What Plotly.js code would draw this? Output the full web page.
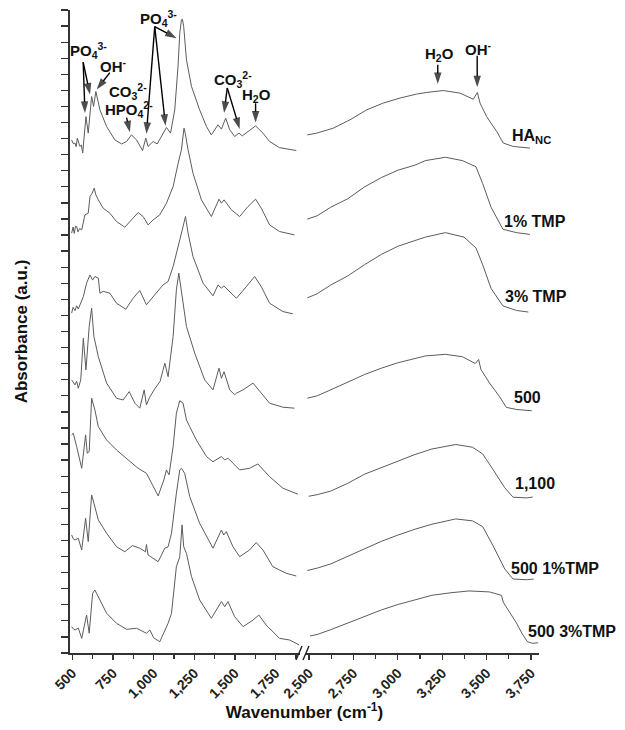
<!DOCTYPE html>
<html>
<head>
<meta charset="utf-8">
<script src="https://cdn.plot.ly/plotly-3.0.1.min.js"></script>
<style>html,body{margin:0;padding:0;background:#fff;}#chart{width:625px;height:730px;}</style>
</head>
<body>
<div id="chart"></div>
<script>
// ---------- DATA ----------
const seriesNames = ['HA<sub>NC</sub>', '1% TMP', '3% TMP', '500', '1,100', '500 1%TMP', '500 3%TMP'];

// HA_NC
const haWnLow = [496,505,517,524,531,540,547,556,564,584,598,619,631,645,670,711,762,803,834,864,895,932,952,966,997,1022,1058,1079,1104,1130,1150,1161,1171,1177,1185,1202,1233,1259,1283,1325,1355,1396,1417,1443,1468,1498,1525,1545,1580,1627,1672,1713,1774,1877];
const haAbsLow = [31.92,31.7,31.72,31.5,32.03,31.8,31.51,31.6,31.10,33.37,32.34,34.62,34.00,34.93,33.79,32.75,31.92,31.67,31.82,32.23,31.92,31.26,32.03,31.51,31.82,31.67,32.34,32.69,32.34,33.79,36.48,38.56,39.39,39.43,38.97,36.90,35.24,34.41,33.79,32.75,32.23,32.86,32.59,33.27,32.55,32.13,32.34,32.17,32.44,32.79,32.34,31.82,31.44,31.26];
const haWnHigh = [2490,2543,2637,2731,2825,2918,3012,3106,3163,3256,3350,3425,3448,3463,3500,3557,3594,3650,3744];
const haAbsHigh = [32.23,32.34,32.65,33.17,33.79,34.21,34.52,34.77,34.87,34.99,34.83,34.45,34.87,34.21,33.37,32.44,31.72,31.51,31.41];

// 1% TMP
const tmp1WnLow = [496,505,512,520,527,535,545,558,578,598,609,622,635,645,660,690,731,772,823,864,905,936,966,997,1038,1079,1120,1151,1171,1187,1195,1212,1242,1294,1355,1402,1417,1433,1478,1529,1580,1627,1662,1713,1774,1866];
const tmp1AbsLow = [26.12,26.5,26.1,26.55,26.53,26.2,26.4,26.32,27.26,27.36,28.39,28.6,28.92,28.5,28.19,27.67,27.36,26.84,26.49,26.94,27.40,27.15,26.63,26.94,27.26,27.98,29.02,30.47,31.30,32.65,32.3,31.30,29.85,28.19,27.15,28.23,27.98,28.19,27.57,27.15,27.77,28.23,27.67,26.63,26.22,26.01];
const tmp1WnHigh = [2490,2546,2622,2717,2812,2908,3002,3097,3155,3268,3364,3440,3478,3525,3592,3668,3744];
const tmp1AbsHigh = [26.99,27.20,27.73,28.25,28.99,29.58,30.04,30.35,30.63,30.84,30.63,30.25,29.20,27.73,26.36,26.15,26.04];

// 3% TMP
const tmp3WnLow = [496,505,517,527,537,550,568,588,609,625,639,660,670,690,731,772,829,874,915,956,997,1058,1089,1120,1161,1181,1196,1212,1242,1304,1365,1396,1417,1431,1509,1570,1621,1662,1713,1795,1856];
const tmp3AbsLow = [21.14,21.5,21.3,21.6,21.4,21.7,22.17,23.01,23.52,23.2,23.42,23.32,22.38,22.5,22.38,21.76,21.39,22.07,22.55,21.66,22.17,22.90,23.11,24.04,25.70,26.53,27.15,26.12,24.66,23.01,22.22,22.90,22.69,22.84,22.07,22.79,23.42,22.79,21.76,21.24,21.10];
const tmp3WnHigh = [2490,2546,2622,2717,2812,2908,3002,3097,3155,3268,3373,3440,3478,3525,3592,3668,3735];
const tmp3AbsHigh = [22.09,22.35,22.89,23.45,24.15,24.80,25.31,25.65,25.87,26.15,25.87,25.20,24.15,22.68,21.59,21.31,21.21];

// 500
const c500WnLow = [496,506,517,527,537,552,568,584,604,619,633,660,711,772,813,850,885,915,942,956,975,1005,1040,1069,1089,1120,1140,1155,1171,1202,1253,1314,1365,1402,1417,1433,1468,1498,1509,1550,1611,1662,1713,1795,1866];
const c500AbsLow = [16.99,16.8,16.68,16.9,16.47,16.99,19.58,17.61,20.31,21.45,19.69,18.44,16.79,15.85,15.74,16.26,15.54,15.23,16.37,15.43,15.9,16.4,16.9,18.03,17.19,19.69,22.59,23.63,22.38,20.31,18.65,16.99,16.37,17.72,17.09,17.50,16.37,16.06,16.16,16.37,16.79,16.16,15.54,15.29,15.23];
const c500WnHigh = [2490,2546,2622,2717,2812,2908,3002,3097,3155,3268,3364,3436,3455,3468,3516,3573,3611,3668,3754];
const c500AbsHigh = [15.85,16.0,16.37,16.85,17.32,17.72,18.06,18.32,18.48,18.58,18.43,18.01,18.26,17.64,16.80,15.95,15.28,15.15,15.07];

// 1,100
const c1100WnLow = [496,506,527,558,582,592,604,619,639,660,711,772,844,905,956,987,1028,1063,1079,1095,1120,1140,1161,1181,1202,1222,1263,1325,1365,1417,1437,1457,1529,1590,1641,1713,1795,1887];
const c1100AbsLow = [13.57,13.67,12.84,11.49,13.57,12.43,12.53,15.85,15.12,14.08,13.25,12.63,12.01,11.49,11.18,10.56,9.77,10.77,11.39,11.08,12.84,14.92,15.70,15.54,14.50,14.08,13.25,12.22,11.90,12.22,12.01,12.12,11.39,11.49,11.76,10.97,10.25,9.88];
const c1100WnHigh = [2498,2546,2622,2717,2812,2908,3002,3097,3192,3326,3421,3478,3535,3602,3649,3725,3760];
const c1100AbsHigh = [9.75,9.85,10.07,10.55,11.12,11.55,11.96,12.35,12.69,12.97,12.80,12.38,11.43,10.28,9.69,9.65,9.70];

// 500 1%TMP
const c500t1WnLow = [496,506,517,537,558,582,598,619,633,660,711,772,823,870,915,950,956,966,1028,1069,1089,1110,1140,1161,1171,1191,1222,1283,1365,1417,1431,1447,1488,1529,1590,1631,1672,1733,1815,1877];
const c500t1AbsLow = [7.34,7.1,7.03,7.14,6.41,8.38,6.93,9.83,9.32,8.28,7.45,6.61,6.30,6.68,6.52,6.3,6.75,6.10,5.68,6.52,6.61,7.45,9.94,11.39,11.49,11.18,9.73,8.07,6.52,7.65,7.34,7.55,6.61,5.99,6.41,6.87,6.41,5.37,4.96,4.79];
const c500t1WnHigh = [2490,2546,2622,2717,2812,2908,3002,3097,3192,3326,3421,3478,3535,3602,3649,3725,3765];
const c500t1AbsHigh = [5.13,5.28,5.54,6.0,6.50,6.95,7.34,7.70,8.01,8.34,8.22,7.86,6.70,5.23,4.60,4.56,4.60];

// 500 3%TMP
const c500t3WnLow = [496,506,517,537,558,588,604,625,639,660,711,772,834,895,956,977,1000,1038,1089,1110,1140,1161,1175,1185,1202,1233,1283,1355,1417,1437,1457,1498,1550,1611,1647,1692,1774,1836,1895];
const c500t3AbsLow = [1.64,1.5,1.43,1.55,0.91,2.36,1.23,3.71,3.92,3.50,2.47,1.85,1.47,1.54,1.23,1.43,0.95,0.70,1.85,2.47,5.37,5.99,7.97,6.61,6.20,4.75,3.30,2.16,3.20,2.88,3.20,2.26,1.64,2.05,2.36,1.74,0.91,0.81,0.50];
const c500t3WnHigh = [2506,2546,2622,2717,2812,2908,3002,3097,3192,3300,3401,3516,3583,3595,3630,3668,3700,3730,3760,3790];
const c500t3AbsHigh = [1.06,1.15,1.45,1.85,2.29,2.68,3.02,3.32,3.59,3.75,3.86,3.80,3.59,3.13,2.5,1.87,1.2,0.7,0.6,0.64];

// band assignment labels
const bandLabels = ['PO<sub>4</sub><sup>3-</sup>', 'OH<sup>-</sup>', 'CO<sub>3</sub><sup>2-</sup>', 'HPO<sub>4</sub><sup>2-</sup>', 'PO<sub>4</sub><sup>3-</sup>', 'CO<sub>3</sub><sup>2-</sup>', 'H<sub>2</sub>O', 'H<sub>2</sub>O', 'OH<sup>-</sup>'];

// ---------- CHART ----------
const lowSets = [[haWnLow,haAbsLow],[tmp1WnLow,tmp1AbsLow],[tmp3WnLow,tmp3AbsLow],[c500WnLow,c500AbsLow],[c1100WnLow,c1100AbsLow],[c500t1WnLow,c500t1AbsLow],[c500t3WnLow,c500t3AbsLow]];
const highSets = [[haWnHigh,haAbsHigh],[tmp1WnHigh,tmp1AbsHigh],[tmp3WnHigh,tmp3AbsHigh],[c500WnHigh,c500AbsHigh],[c1100WnHigh,c1100AbsHigh],[c500t1WnHigh,c500t1AbsHigh],[c500t3WnHigh,c500t3AbsHigh]];

const lineStyle = {color: '#5c5c5c', width: 1};
const traces = [];
seriesNames.forEach((name, i) => {
  traces.push({x: lowSets[i][0], y: lowSets[i][1], xaxis: 'x', yaxis: 'y', mode: 'lines', line: lineStyle, name: name, hoverinfo: 'skip'});
  traces.push({x: highSets[i][0], y: highSets[i][1], xaxis: 'x2', yaxis: 'y', mode: 'lines', line: lineStyle, name: name, hoverinfo: 'skip'});
});
// empty trace so that the full-width title axis is drawn
traces.push({x: [], y: [], xaxis: 'x3', yaxis: 'y', mode: 'lines', hoverinfo: 'skip'});

// band arrows: [axis, tailX, tailY, headX, headY]
const arrows = [
  ['x', 567, 36.75, 578, 33.6], ['x', 567, 36.75, 609, 34.75],
  ['x', 731, 36.1, 650, 35.05],
  ['x', 834, 33.3, 854, 32.4],
  ['x', 1007, 38.97, 956, 32.3], ['x', 1007, 38.97, 1073, 32.8], ['x', 1007, 38.97, 1141, 38.25],
  ['x', 1453, 35.15, 1433, 33.6], ['x', 1453, 35.15, 1529, 32.6],
  ['x', 1627, 34.2, 1627, 33.0],
  ['x2', 3225, 36.6, 3225, 35.4],
  ['x2', 3447, 37.15, 3447, 35.2]
];
arrows.forEach(a => {
  traces.push({x: [a[1], a[3]], y: [a[2], a[4]], xaxis: a[0], yaxis: 'y', mode: 'lines+markers', hoverinfo: 'skip',
    line: {color: '#000', width: 1.4},
    marker: {symbol: 'arrow', angleref: 'previous', size: [0, 12], color: '#000', line: {width: 0}}});
});

const FONT = 'Liberation Sans, Arial, Helvetica, sans-serif';
const tickFont = {family: FONT, size: 14, color: '#222', weight: 'bold'};

const xCommon = {
  dtick: 250, tickformat: ',d', tickangle: -45, ticks: 'outside', ticklen: 5, tickwidth: 1.3, tickcolor: '#333',
  showline: true, linecolor: '#333', linewidth: 1.6, showgrid: false, zeroline: false, tickfont: tickFont,
  anchor: 'y', fixedrange: true
};

// series label positions (paper x, data y)
const seriesLabelPos = [[0.938, 32.11], [0.921, 26.82], [0.923, 22.15], [0.942, 15.87], [0.945, 10.52], [0.936, 5.23], [0.972, 1.31]];
const annotations = seriesNames.map((name, i) => ({
  text: name, xref: 'paper', yref: 'y', x: seriesLabelPos[i][0], y: seriesLabelPos[i][1],
  xanchor: 'left', yanchor: 'middle', showarrow: false,
  font: {family: FONT, size: 16, color: '#111', weight: 'bold'}
}));

const bandFont = {family: FONT, size: 15, color: '#111', weight: 'bold'};
// band text placements: [xaxis, x, y]
const bandTextPos = [['x', 600, 37.5], ['x', 756, 36.55], ['x', 844, 34.95], ['x', 848, 33.8], ['x', 1032, 39.5], ['x', 1486, 35.7], ['x', 1633, 34.7], ['x2', 3232, 37.25], ['x2', 3452, 37.6]];
bandLabels.forEach((t, i) => {
  annotations.push({text: t, xref: bandTextPos[i][0], yref: 'y', x: bandTextPos[i][1], y: bandTextPos[i][2], showarrow: false, font: bandFont, xanchor: 'center', yanchor: 'middle'});
});

const layout = {
  width: 625, height: 730,
  margin: {l: 70, r: 86, t: 10, b: 77},
  paper_bgcolor: '#fff', plot_bgcolor: 'rgba(0,0,0,0)',
  showlegend: false,
  xaxis: Object.assign({}, xCommon, {domain: [0, 0.4904], range: [486, 1900], tick0: 500,
    minor: {dtick: 125, tick0: 500, ticks: 'outside', ticklen: 4, tickwidth: 1.2, tickcolor: '#333', showgrid: false}}),
  xaxis2: Object.assign({}, xCommon, {domain: [0.5032, 1], range: [2483, 3795], tick0: 2500,
    minor: {dtick: 125, tick0: 2500, ticks: 'outside', ticklen: 4, tickwidth: 1.2, tickcolor: '#333', showgrid: false}}),
  xaxis3: {domain: [0, 1], anchor: 'y', range: [0, 1], showline: false, showgrid: false, zeroline: false,
    showticklabels: false, ticks: '', fixedrange: true,
    title: {text: 'Wavenumber (cm<sup>-1</sup>)', font: {family: FONT, size: 17, color: '#111', weight: 'bold'}, standoff: 53}},
  yaxis: {domain: [0, 1], range: [0, 40], tick0: 0, dtick: 1, ticks: 'outside', ticklen: 7, tickwidth: 1.3, tickcolor: '#333',
    showticklabels: false, showline: true, linecolor: '#333', linewidth: 1.8, showgrid: false, zeroline: false, fixedrange: true,
    title: {text: 'Absorbance (a.u.)', font: {family: FONT, size: 17, color: '#111', weight: 'bold'}, standoff: 29}},
  annotations: annotations,
  shapes: [
    {type: 'line', xref: 'paper', yref: 'paper', x0: 0.4819, y0: -0.0109, x1: 0.4947, y1: 0.0109, line: {color: '#222', width: 1.4}},
    {type: 'line', xref: 'paper', yref: 'paper', x0: 0.4968, y0: -0.0109, x1: 0.5096, y1: 0.0109, line: {color: '#222', width: 1.4}}
  ]
};

Plotly.newPlot('chart', traces, layout, {displayModeBar: false, staticPlot: true});
</script>
</body>
</html>
